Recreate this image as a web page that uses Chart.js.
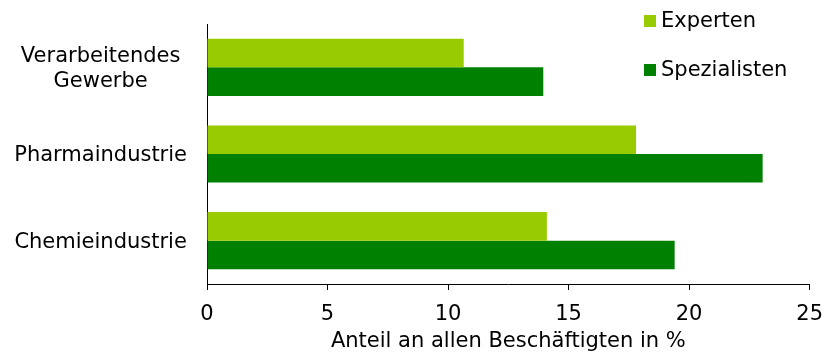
<!DOCTYPE html>
<html>
<head>
<meta charset="utf-8">
<script src="https://cdn.jsdelivr.net/npm/chart.js@4"></script>
<style>
  body { margin: 0; background: #fff; }
  #wrap { width: 835px; height: 356px; }
</style>
</head>
<body>
<div id="wrap"><canvas id="myChart"></canvas></div>
<script>
// categories and values
const categories = [["Verarbeitendes", "Gewerbe"], "Pharmaindustrie", "Chemieindustrie"];
const experten = [10.65, 17.8, 14.1];
const spezialisten = [13.95, 23.05, 19.4];
const axisTitle = "Anteil an allen Beschäftigten in %";

const FONT = "'DejaVu Sans', Verdana, sans-serif";

// legend drawn inside the chart area, top right
const cornerLegend = {
    id: "cornerLegend",
    afterDraw(chart) {
        const ctx = chart.ctx;
        ctx.save();
        ctx.font = "21px " + FONT;
        ctx.textBaseline = "middle";
        ctx.textAlign = "left";
        chart.data.datasets.forEach(function (ds, i) {
            const y = 21 + i * 49;
            ctx.fillStyle = ds.backgroundColor;
            ctx.fillRect(644, y - 6, 12, 12);
            ctx.fillStyle = "#000";
            ctx.fillText(ds.label, 661, y + 1);
        });
        ctx.restore();
    }
};

const data = {
    labels: categories,
    datasets: [
        {
            label: "Experten",
            backgroundColor: "#99CC00",
            data: experten,
        },
        {
            label: "Spezialisten",
            backgroundColor: "#008000",
            data: spezialisten,
        },
    ],
};

const config = {
    type: "bar",
    data,
    options: {
        indexAxis: "y",
        responsive: true,
        maintainAspectRatio: false,
        animation: false,
        datasets: {
            bar: { categoryPercentage: 0.66, barPercentage: 1.0 }
        },
        layout: { padding: { top: 24, right: 25, bottom: 2, left: 0 } },
        plugins: {
            legend: { display: false },
            tooltip: { enabled: false },
        },
        scales: {
            x: {
                min: 0,
                max: 25,
                ticks: { stepSize: 5, color: "#000", font: { family: FONT, size: 21 }, padding: 12 },
                grid: { drawOnChartArea: false, drawTicks: true, tickLength: 6, color: "#000" },
                border: { display: true, color: "#000", width: 1 },
                title: {
                    display: true,
                    text: axisTitle,
                    color: "#000",
                    font: { family: FONT, size: 21 },
                    padding: { top: 0, bottom: 0 },
                },
                afterFit: function (scale) {
                    scale.height = 70;
                },
            },
            y: {
                ticks: { color: "#000", font: { family: FONT, size: 21 }, crossAlign: "center", padding: 12, labelOffset: 2 },
                grid: { display: false },
                border: { display: true, color: "#000", width: 1 },
                // fixed axis width so the zero line sits where it does in the original
                afterFit: function (scale) {
                    scale.width = 207;
                    scale.paddingTop = 0;
                    scale.paddingBottom = 0;
                },
            },
        },
    },
    plugins: [cornerLegend],
};

var myChart = new Chart(document.getElementById("myChart"), config);
</script>
</body>
</html>
